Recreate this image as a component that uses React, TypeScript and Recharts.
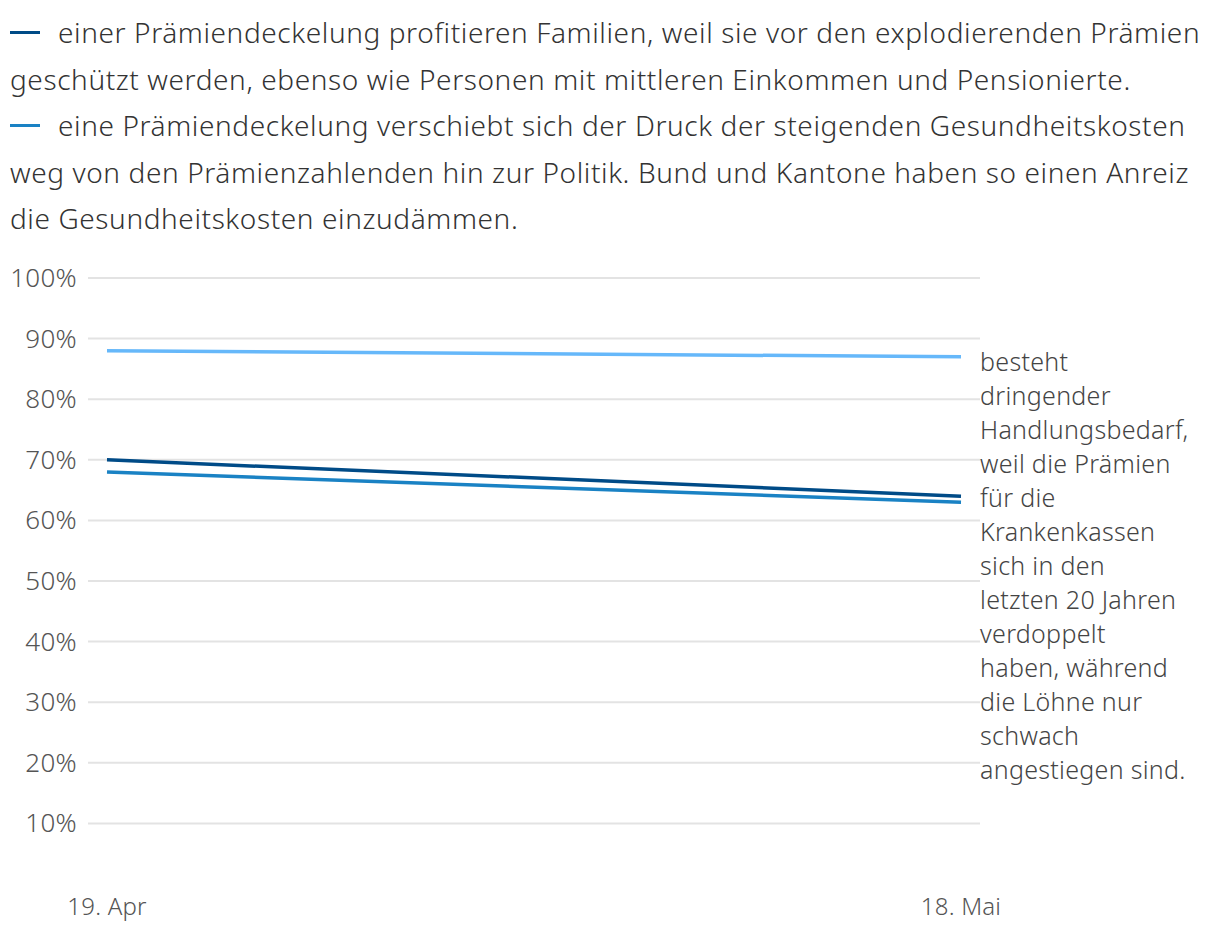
import React from "react";
import { CartesianGrid, LabelList, Line, LineChart, XAxis, YAxis } from "recharts";

const dates = ["19. Apr", "18. Mai"];
const familien = [70, 64];
const druck = [68, 63];
const handlungsbedarf = [88, 87];
const yTicks = [10, 20, 30, 40, 50, 60, 70, 80, 90, 100];

const endNote = [
  "besteht", "dringender", "Handlungsbedarf,", "weil die Prämien", "für die",
  "Krankenkassen", "sich in den", "letzten 20 Jahren", "verdoppelt",
  "haben, während", "die Löhne nur", "schwach", "angestiegen sind.",
];

const legendItems = [
  {
    color: "#004b87",
    lines: [
      "einer Prämiendeckelung profitieren Familien, weil sie vor den explodierenden Prämien",
      "geschützt werden, ebenso wie Personen mit mittleren Einkommen und Pensionierte.",
    ],
  },
  {
    color: "#1a82c4",
    lines: [
      "eine Prämiendeckelung verschiebt sich der Druck der steigenden Gesundheitskosten",
      "weg von den Prämienzahlenden hin zur Politik. Bund und Kantone haben so einen Anreiz",
      "die Gesundheitskosten einzudämmen.",
    ],
  },
];

const data = dates.map((d, i) => ({
  date: d, familien: familien[i], druck: druck[i], bedarf: handlungsbedarf[i],
}));

const FONT = "'Noto Sans', 'Open Sans', sans-serif";

const YTick = ({ x, y, payload }: any) => (
  <text x={x - 2} y={y} dy={9} textAnchor="end" fill="#555" fontSize={26} fontWeight={300} letterSpacing={0.3} fontFamily={FONT}>
    {payload.value}%
  </text>
);

const XTick = ({ x, y, payload }: any) => (
  <text x={x} y={y} dy={23} textAnchor="middle" fill="#555" fontSize={24} fontWeight={300} letterSpacing={0.2} fontFamily={FONT}>
    {payload.value}
  </text>
);

const NoteLabel = ({ x, y, index }: any) =>
  index === data.length - 1 ? (
    <text x={x + 19} y={y + 14} fill="#444" fontSize={25} fontWeight={300} letterSpacing={0.3} fontFamily={FONT}>
      {endNote.map((l, i) => (
        <tspan key={i} x={x + 19} dy={i === 0 ? 0 : 34}>{l}</tspan>
      ))}
    </text>
  ) : null;

export default function App() {
  return (
    <div style={{ position: "relative", width: 1220, height: 934, margin: -8, background: "#fff", fontFamily: FONT, overflow: "hidden" }}>
      <div style={{ position: "absolute", left: 10, top: 9, width: 1210, fontSize: 28, letterSpacing: 0.6, lineHeight: "46.5px", color: "#333", fontWeight: 300, whiteSpace: "nowrap" }}>
        {legendItems.map((it) => (
          <div key={it.color}>
            {it.lines.map((l, i) => (
              <div key={i}>
                {i === 0 && (
                  <span style={{ display: "inline-block", width: 30, height: 3, background: it.color, verticalAlign: "middle", marginRight: 18, position: "relative", top: -3 }} />
                )}
                {l}
              </div>
            ))}
          </div>
        ))}
      </div>
      <div style={{ position: "absolute", left: 0, top: 250 }}>
        <LineChart width={1220} height={684} data={data} margin={{ top: 28, right: 240, bottom: 0, left: 0 }}>
          <CartesianGrid vertical={false} horizontalValues={yTicks} stroke="#e3e3e3" strokeWidth={2} />
          <XAxis dataKey="date" axisLine={false} tickLine={false} padding={{ left: 19, right: 19 }} tick={<XTick />} height={50} interval={0} />
          <YAxis domain={[0, 100]} ticks={yTicks} axisLine={false} tickLine={false} tick={<YTick />} width={88} tickSize={0} tickMargin={9} />
          <Line dataKey="bedarf" stroke="#66b8fa" strokeWidth={3.5} dot={false} isAnimationActive={false}>
            <LabelList dataKey="bedarf" content={<NoteLabel />} />
          </Line>
          <Line dataKey="druck" stroke="#1a82c4" strokeWidth={3.5} dot={false} isAnimationActive={false} />
          <Line dataKey="familien" stroke="#004b87" strokeWidth={3.5} dot={false} isAnimationActive={false} />
        </LineChart>
      </div>
    </div>
  );
}
